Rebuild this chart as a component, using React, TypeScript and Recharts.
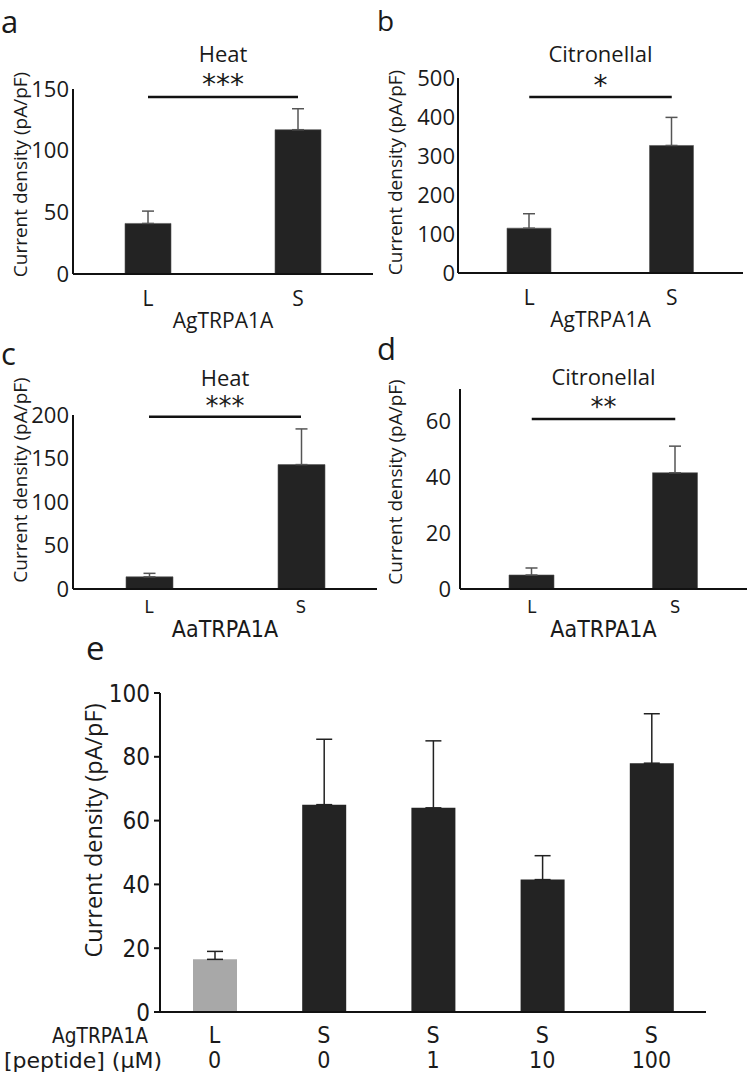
import React from "react";
import {
  Bar,
  BarChart,
  Cell,
  ErrorBar,
  Label,
  ReferenceLine,
  XAxis,
  YAxis
} from "recharts";

const SANS = "'Open Sans', 'Noto Sans', sans-serif";
const NARROW = "'Liberation Sans Narrow', 'DejaVu Sans Condensed', sans-serif";
const STAR_FONT = "'DejaVu Sans', sans-serif";
const INK = "#1a1a1a";
const AXIS = "#111";
const BAR_DARK = "#232323";
const BAR_GREY = "#a8a8a8";
const Y_TITLE = "Current density (pA/pF)";

// panels a-d: long (L) vs short (S) isoform
const variants = ["L", "S"];

const agHeatMeans = [41, 117];
const agHeatErrors = [10, 17];

const agCitronellalMeans = [115, 327];
const agCitronellalErrors = [37, 72];

const aaHeatMeans = [14, 143];
const aaHeatErrors = [4, 41];

const aaCitronellalMeans = [5, 41.5];
const aaCitronellalErrors = [2.5, 9.5];

// panel e: peptide dose series
const peptideGenotypes = ["L", "S", "S", "S", "S"];
const peptideDoses = ["0", "0", "1", "10", "100"];
const peptideMeans = [16.5, 65, 64, 41.5, 78];
const peptideErrors = [2.5, 20.5, 21, 7.5, 15.5];

type PairPanelProps = {
  left: number;
  top: number;
  width: number;
  height: number;
  marginTop: number;
  marginRight: number;
  yAxisWidth: number;
  xAxisHeight: number;
  means: number[];
  errors: number[];
  domain: [number, number];
  ticks: number[];
  tickMargin: number;
  barSize: number;
  title: string;
  stars: string;
  sigAt: number;
  titleDy: number;
  starDy: number;
  starSize: number;
  gene: string;
  narrowX: boolean;
  yTitleShift: number;
};

function PairPanel(p: PairPanelProps) {
  const data = variants.map((v, i) => ({
    variant: v,
    mean: p.means[i],
    err: [0, p.errors[i]]
  }));
  const xFont = p.narrowX ? NARROW : SANS;
  const xTickSize = p.narrowX ? 18 : 21;
  const xTickDy = p.narrowX ? 24 : 32;
  const geneDy = p.narrowX ? 48 : 54;
  const geneSize = p.narrowX ? 23 : 21;

  return (
    <div style={{ position: "absolute", left: p.left, top: p.top }}>
      <BarChart
        width={p.width}
        height={p.height}
        data={data}
        margin={{ top: p.marginTop, right: p.marginRight, bottom: 0, left: 0 }}
      >
        <XAxis
          dataKey="variant"
          height={p.xAxisHeight}
          interval={0}
          axisLine={{ stroke: AXIS, strokeWidth: 2 }}
          tickLine={false}
          tickSize={0}
          tickMargin={0}
          tick={(t: any) => (
            <text
              x={t.x}
              y={t.y + xTickDy}
              textAnchor="middle"
              fontFamily={xFont}
              fontSize={xTickSize}
              fill={INK}
            >
              {t.payload.value}
            </text>
          )}
        >
          <Label
            content={(l: any) => (
              <text
                x={l.viewBox.x + l.viewBox.width / 2}
                y={l.viewBox.y + geneDy}
                textAnchor="middle"
                fontFamily={xFont}
                fontSize={geneSize}
                fill={INK}
              >
                {p.gene}
              </text>
            )}
          />
        </XAxis>
        <YAxis
          width={p.yAxisWidth}
          domain={p.domain}
          ticks={p.ticks}
          interval={0}
          axisLine={{ stroke: AXIS, strokeWidth: 2 }}
          tickLine={false}
          tickSize={0}
          tickMargin={p.tickMargin}
          tick={{ fontFamily: SANS, fontSize: 22, fill: INK }}
        >
          <Label
            content={(l: any) => {
              const x = l.viewBox.x + 27;
              const y = l.viewBox.y + l.viewBox.height / 2 + p.yTitleShift;
              return (
                <text
                  x={x}
                  y={y}
                  transform={`rotate(-90, ${x}, ${y})`}
                  textAnchor="middle"
                  fontFamily={SANS}
                  fontSize={19}
                  fill={INK}
                >
                  {Y_TITLE}
                </text>
              );
            }}
          />
        </YAxis>
        <Bar
          dataKey="mean"
          barSize={p.barSize}
          fill={BAR_DARK}
          stroke="#555"
          strokeWidth={0.6}
          isAnimationActive={false}
        >
          <ErrorBar
            dataKey="err"
            direction="y"
            width={6}
            stroke="#555"
            strokeWidth={1.5}
            isAnimationActive={false}
          />
        </Bar>
        <ReferenceLine
          segment={[
            { x: "L", y: p.sigAt },
            { x: "S", y: p.sigAt }
          ]}
          stroke={AXIS}
          strokeWidth={2.5}
          ifOverflow="visible"
          label={(l: any) => {
            const cx = l.viewBox.x + l.viewBox.width / 2;
            const y = l.viewBox.y;
            return (
              <g>
                <text
                  x={cx}
                  y={y - p.titleDy}
                  textAnchor="middle"
                  fontFamily={SANS}
                  fontSize={22}
                  fill={INK}
                >
                  {p.title}
                </text>
                <text
                  x={cx}
                  y={y - p.starDy}
                  textAnchor="middle"
                  fontFamily={STAR_FONT}
                  fontSize={p.starSize}
                  fill={INK}
                >
                  {p.stars}
                </text>
              </g>
            );
          }}
        />
      </BarChart>
    </div>
  );
}

function PeptidePanel() {
  const data = peptideGenotypes.map((g, i) => ({
    id: `${g}-${peptideDoses[i]}`,
    mean: peptideMeans[i],
    err: [0, peptideErrors[i]]
  }));

  return (
    <div style={{ position: "absolute", left: 0, top: 660 }}>
      <BarChart
        width={750}
        height={414}
        data={data}
        margin={{ top: 33, right: 44, bottom: 0, left: 0 }}
      >
        <XAxis
          dataKey="id"
          height={62}
          interval={0}
          axisLine={{ stroke: AXIS, strokeWidth: 2 }}
          tickLine={false}
          tickSize={0}
          tickMargin={0}
          tick={(t: any) => (
            <g>
              <text
                x={t.x}
                y={t.y + 31}
                textAnchor="middle"
                fontFamily={NARROW}
                fontSize={23}
                fill={INK}
              >
                {peptideGenotypes[t.index]}
              </text>
              <text
                x={t.x}
                y={t.y + 56}
                textAnchor="middle"
                fontFamily={NARROW}
                fontSize={23}
                fill={INK}
              >
                {peptideDoses[t.index]}
              </text>
            </g>
          )}
        />
        <YAxis
          width={160}
          domain={[0, 100]}
          ticks={[0, 20, 40, 60, 80, 100]}
          interval={0}
          axisLine={{ stroke: AXIS, strokeWidth: 2 }}
          tickLine={{ stroke: AXIS, strokeWidth: 2 }}
          tickSize={6}
          tickMargin={4}
          tick={{ fontFamily: NARROW, fontSize: 24, fill: INK }}
        >
          <Label
            content={(l: any) => {
              const x = l.viewBox.x + 102;
              const y = l.viewBox.y + l.viewBox.height / 2 - 22;
              return (
                <text
                  x={x}
                  y={y}
                  transform={`rotate(-90, ${x}, ${y})`}
                  textAnchor="middle"
                  fontFamily={SANS}
                  fontSize={23.5}
                  fill={INK}
                >
                  {Y_TITLE}
                </text>
              );
            }}
          />
        </YAxis>
        <Bar dataKey="mean" barSize={44} isAnimationActive={false}>
          {data.map((d, i) => (
            <Cell key={d.id} fill={i === 0 ? BAR_GREY : BAR_DARK} />
          ))}
          <ErrorBar
            dataKey="err"
            direction="y"
            width={8}
            stroke="#222"
            strokeWidth={1.5}
            isAnimationActive={false}
          />
        </Bar>
      </BarChart>
    </div>
  );
}

export default function App() {
  return (
    <div
      style={{
        position: "absolute",
        left: 0,
        top: 0,
        width: 750,
        height: 1074,
        background: "#fff",
        overflow: "hidden"
      }}
    >
      <PairPanel
        left={0}
        top={0}
        width={375}
        height={340}
        marginTop={89}
        marginRight={2}
        yAxisWidth={73}
        xAxisHeight={66}
        means={agHeatMeans}
        errors={agHeatErrors}
        domain={[0, 150]}
        ticks={[0, 50, 100, 150]}
        tickMargin={4}
        barSize={46}
        title="Heat"
        stars="***"
        sigAt={143.5}
        titleDy={35}
        starDy={3}
        starSize={28}
        gene="AgTRPA1A"
        narrowX={false}
        yTitleShift={-7}
      />
      <PairPanel
        left={375}
        top={0}
        width={375}
        height={340}
        marginTop={78}
        marginRight={7}
        yAxisWidth={83}
        xAxisHeight={67}
        means={agCitronellalMeans}
        errors={agCitronellalErrors}
        domain={[0, 500]}
        ticks={[0, 100, 200, 300, 400, 500]}
        tickMargin={3}
        barSize={44}
        title="Citronellal"
        stars="*"
        sigAt={451}
        titleDy={35}
        starDy={2}
        starSize={28}
        gene="AgTRPA1A"
        narrowX={false}
        yTitleShift={-3}
      />
      <PairPanel
        left={0}
        top={340}
        width={377}
        height={320}
        marginTop={75}
        marginRight={0}
        yAxisWidth={73}
        xAxisHeight={71}
        means={aaHeatMeans}
        errors={aaHeatErrors}
        domain={[0, 200]}
        ticks={[0, 50, 100, 150, 200]}
        tickMargin={4}
        barSize={47}
        title="Heat"
        stars="***"
        sigAt={198}
        titleDy={31}
        starDy={2}
        starSize={26}
        gene="AaTRPA1A"
        narrowX={true}
        yTitleShift={-22}
      />
      <PairPanel
        left={375}
        top={340}
        width={375}
        height={320}
        marginTop={49}
        marginRight={3}
        yAxisWidth={85}
        xAxisHeight={71}
        means={aaCitronellalMeans}
        errors={aaCitronellalErrors}
        domain={[0, 71.4]}
        ticks={[0, 20, 40, 60]}
        tickMargin={9}
        barSize={45}
        title="Citronellal"
        stars="**"
        sigAt={60.7}
        titleDy={34}
        starDy={3}
        starSize={26}
        gene="AaTRPA1A"
        narrowX={true}
        yTitleShift={-7}
      />
      <PeptidePanel />
      <svg
        width={750}
        height={1074}
        style={{ position: "absolute", left: 0, top: 0, pointerEvents: "none" }}
      >
        <g fontFamily={SANS} fill={INK}>
          <text x={1} y={33} fontSize={31}>a</text>
          <text x={377} y={31} fontSize={28}>b</text>
          <text x={1} y={365} fontSize={31}>c</text>
          <text x={377} y={360} fontSize={31}>d</text>
          <text x={86} y={660} fontSize={33}>e</text>
        </g>
        <g fontFamily={NARROW} fontSize={21} fill={INK} textAnchor="end">
          <text x={148} y={1043} textLength={96} lengthAdjust="spacingAndGlyphs">
            AgTRPA1A
          </text>
          <text x={162} y={1068} textLength={158} lengthAdjust="spacingAndGlyphs">
            [peptide] (µM)
          </text>
        </g>
      </svg>
    </div>
  );
}
